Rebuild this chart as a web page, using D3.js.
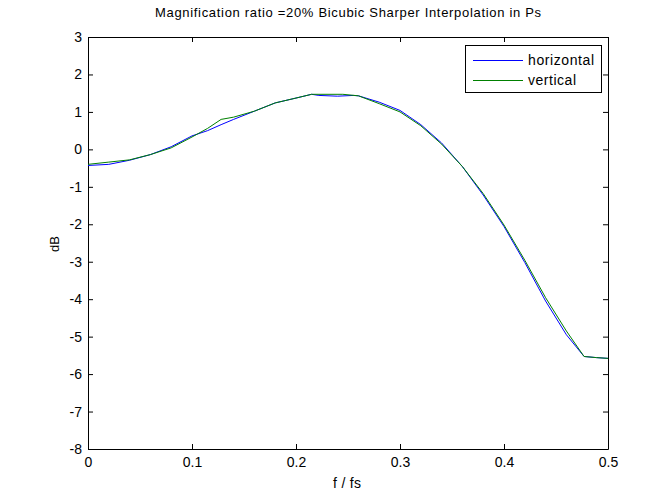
<!DOCTYPE html>
<html><head><meta charset="utf-8">
<script src="https://cdn.jsdelivr.net/npm/d3@7"></script>
<style>
html,body{margin:0;padding:0;background:#fff;}
text{font-family:"Liberation Sans",Arial,Helvetica,sans-serif;}
</style></head><body>
<svg id="c" width="672" height="504"></svg>
<script>
const title = "Magnification ratio =20% Bicubic Sharper Interpolation in Ps";
const xLabel = "f / fs";
const yLabel = "dB";
const seriesNames = ["horizontal", "vertical"];
const seriesColors = ["#0000ff", "#008000"];
const xTicks = [0, 0.1, 0.2, 0.3, 0.4, 0.5];
const yTicks = [-8, -7, -6, -5, -4, -3, -2, -1, 0, 1, 2, 3];

const hF = [0, 0.02, 0.04, 0.06, 0.08, 0.1, 0.115, 0.128, 0.14, 0.16, 0.18, 0.2, 0.215, 0.222, 0.24, 0.255, 0.26, 0.28, 0.3, 0.32, 0.34, 0.36, 0.38, 0.4, 0.42, 0.44, 0.46, 0.477, 0.489, 0.5];
const hDB = [-0.43, -0.40, -0.29, -0.14, 0.07, 0.36, 0.50, 0.66, 0.80, 1.02, 1.24, 1.37, 1.47, 1.44, 1.42, 1.44, 1.43, 1.26, 1.04, 0.66, 0.17, -0.46, -1.22, -2.06, -3.02, -4.05, -4.95, -5.53, -5.56, -5.58];

const vF = [0, 0.02, 0.04, 0.06, 0.08, 0.1, 0.115, 0.128, 0.14, 0.16, 0.18, 0.2, 0.215, 0.245, 0.26, 0.28, 0.3, 0.32, 0.34, 0.36, 0.38, 0.4, 0.42, 0.44, 0.46, 0.477, 0.489, 0.5];
const vDB = [-0.40, -0.34, -0.28, -0.14, 0.04, 0.33, 0.56, 0.80, 0.86, 1.02, 1.24, 1.37, 1.47, 1.47, 1.43, 1.22, 1.00, 0.63, 0.14, -0.46, -1.18, -2.02, -2.96, -3.96, -4.85, -5.53, -5.56, -5.58];

const svg = d3.select("#c");
const L = 88, R = 608, T = 37, B = 449;
const x = d3.scaleLinear().domain([0, 0.5]).range([L, R]);
const y = d3.scaleLinear().domain([-8, 3]).range([B, T]);

const tickLen = 5;
const gB = svg.append("g").attr("transform", `translate(0,${B})`)
  .call(d3.axisBottom(x).tickValues(xTicks).tickSizeInner(-tickLen).tickSizeOuter(0).tickPadding(8).tickFormat(d => String(d)));
const gT = svg.append("g").attr("transform", `translate(0,${T})`)
  .call(d3.axisTop(x).tickValues(xTicks).tickSizeInner(-tickLen).tickSizeOuter(0).tickFormat(""));
const gL = svg.append("g").attr("transform", `translate(${L},0)`)
  .call(d3.axisLeft(y).tickValues(yTicks).tickSizeInner(-tickLen).tickSizeOuter(0).tickPadding(6).tickFormat(d => String(d)));
const gR = svg.append("g").attr("transform", `translate(${R},0)`)
  .call(d3.axisRight(y).tickValues(yTicks).tickSizeInner(-tickLen).tickSizeOuter(0).tickFormat(""));
[gB, gT, gL, gR].forEach(g => {
  g.selectAll("path.domain").attr("stroke", "#000").attr("stroke-width", 1);
  g.selectAll("line").attr("stroke", "#000");
  g.selectAll("text").attr("fill", "#000").style("font-size", "14px");
});
gB.selectAll("text").attr("dy", "0.71em");

// lines
svg.append("clipPath").attr("id", "pc").append("rect").attr("x", L).attr("y", T).attr("width", R - L).attr("height", B - T);
const line = d3.line().x(d => x(d[0])).y(d => y(d[1]));
const hData = hF.map((f, i) => [f, hDB[i]]);
const vData = vF.map((f, i) => [f, vDB[i]]);
svg.append("path").datum(hData).attr("d", line).attr("fill", "none").attr("stroke", seriesColors[0]).attr("stroke-width", 1).attr("clip-path", "url(#pc)");
svg.append("path").datum(vData).attr("d", line).attr("fill", "none").attr("stroke", seriesColors[1]).attr("stroke-width", 1).attr("clip-path", "url(#pc)");

// title & labels
svg.append("text").attr("x", (L + R) / 2).attr("y", 17).attr("text-anchor", "middle").style("font-size", "13px")
  .attr("textLength", 386).attr("lengthAdjust", "spacing").text(title);
svg.append("text").attr("x", 347).attr("y", 488).attr("text-anchor", "middle").style("font-size", "14px")
  .attr("textLength", 28).attr("lengthAdjust", "spacing").text(xLabel);
svg.append("text").attr("transform", `translate(59,${(T + B) / 2 + 1}) rotate(-90)`).attr("text-anchor", "middle").style("font-size", "13px").text(yLabel);

// legend
const lg = svg.append("g");
lg.append("rect").attr("x", 465.5).attr("y", 45.5).attr("width", 136).attr("height", 47).attr("fill", "#fff").attr("stroke", "#000");
const legLens = [66, 48];
seriesNames.forEach((n, i) => {
  const yy = 60 + i * 20;
  lg.append("line").attr("x1", 473).attr("x2", 523).attr("y1", yy + 0.5).attr("y2", yy + 0.5).attr("stroke", seriesColors[i]);
  lg.append("text").attr("x", 528).attr("y", yy).attr("dy", "0.35em").style("font-size", "14px")
    .attr("textLength", legLens[i]).attr("lengthAdjust", "spacing").text(n);
});
</script>
</body></html>
